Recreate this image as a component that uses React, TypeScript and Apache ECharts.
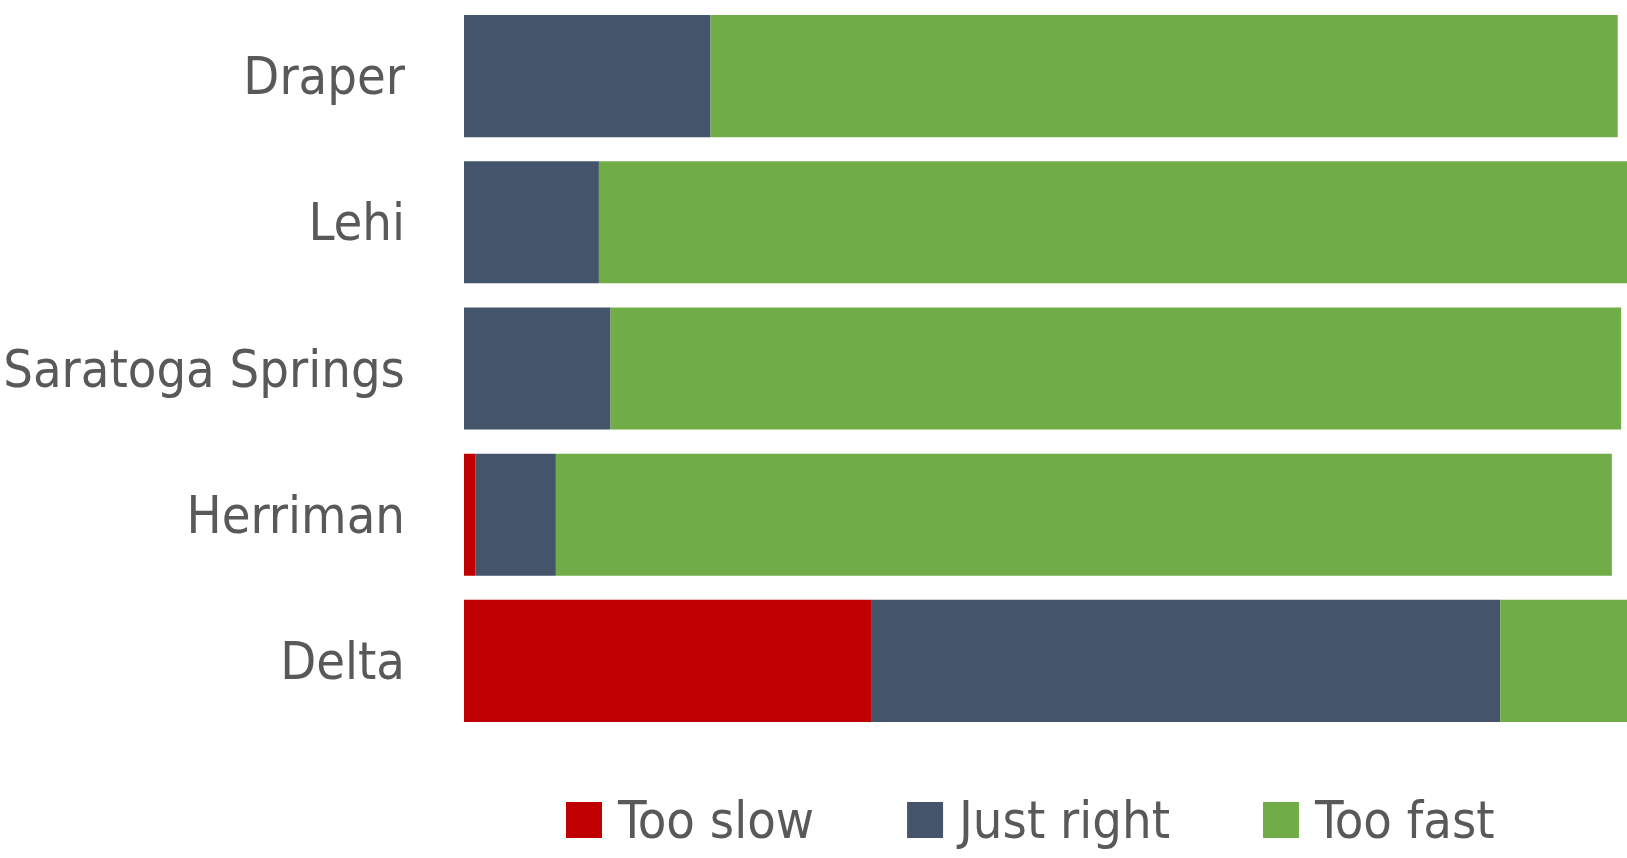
import React, { useEffect, useRef } from "react";
import * as echarts from "echarts";

const categories = ["Draper", "Lehi", "Saratoga Springs", "Herriman", "Delta"];
const seriesNames = ["Too slow", "Just right", "Too fast"];
const tooSlow = [0, 0, 0, 1.0, 35.0];
const justRight = [21.2, 11.6, 12.6, 6.9, 54.1];
const tooFast = [78.0, 88.4, 86.9, 90.8, 10.9];
const colors = ["#C00000", "#44546A", "#70AD47"];

const FONT = "'Liberation Sans Narrow', 'Arial Narrow', 'DejaVu Sans Condensed', sans-serif";

export default function App() {
  const ref = useRef<HTMLDivElement>(null);
  useEffect(() => {
    if (!ref.current) return;
    const chart = echarts.init(ref.current, null, { renderer: "svg" });
    const values = [tooSlow, justRight, tooFast];
    chart.setOption({
      animation: false,
      grid: {
        left: 464,
        right: 0,
        top: 3,
        height: 731,
        containLabel: false,
        outerBoundsMode: "none",
      },
      legend: {
        left: 566,
        top: 794,
        padding: 0,
        itemWidth: 36,
        itemHeight: 36,
        itemGap: 93,
        icon: "rect",
        data: seriesNames,
        textStyle: {
          fontFamily: FONT,
          fontSize: 52,
          lineHeight: 52,
          color: "#595959",
          padding: [0, 0, 0, 11],
        },
      },
      xAxis: {
        type: "value",
        min: 0,
        max: 100,
        show: false,
      },
      yAxis: {
        type: "category",
        data: categories,
        inverse: true,
        axisLine: { show: false },
        axisTick: { show: false },
        axisLabel: {
          margin: 59,
          fontFamily: FONT,
          fontSize: 52,
          color: "#595959",
          padding: [0, 0, 6, 0],
        },
      },
      series: seriesNames.map((name, i) => ({
        name,
        type: "bar",
        stack: "total",
        barWidth: "83.5%",
        data: values[i],
        itemStyle: { color: colors[i] },
        emphasis: { disabled: true },
      })),
    });
    return () => chart.dispose();
  }, []);
  return (
    <div
      ref={ref}
      style={{ position: "absolute", left: 0, top: 0, width: 1627, height: 858, background: "#fff" }}
    />
  );
}
